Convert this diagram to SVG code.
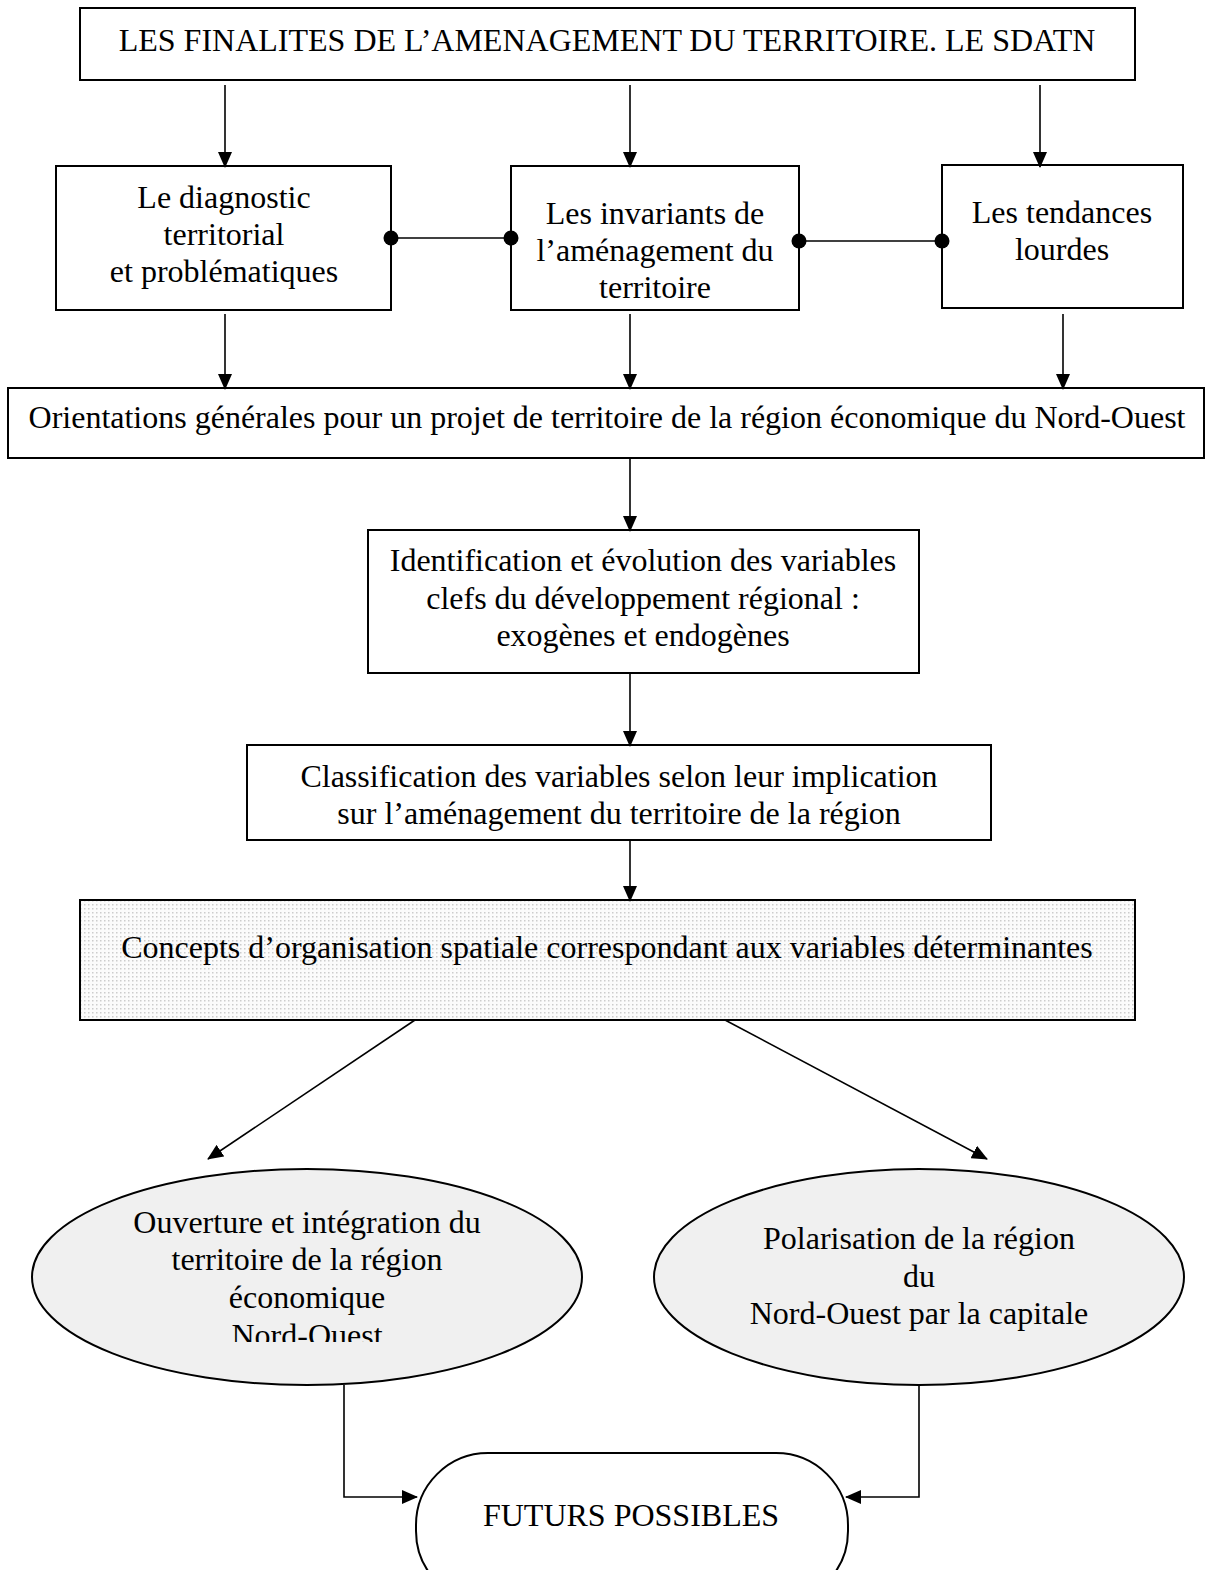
<svg xmlns="http://www.w3.org/2000/svg" width="1208" height="1570" viewBox="0 0 1208 1570">
<style>
.box{fill:#fff;stroke:#000;stroke-width:2}
.ell{fill:#f0f0f0;stroke:#000;stroke-width:2}
.t{font-family:"Liberation Serif","Times New Roman",serif;font-size:32px;fill:#000;text-anchor:middle}
.c{fill:none;stroke:#000;stroke-width:1.6}
</style>
<defs>
<marker id="arr" viewBox="0 0 16 14" refX="15" refY="7" markerWidth="16" markerHeight="14" markerUnits="userSpaceOnUse" orient="auto">
<path d="M0,0 L16,7 L0,14 z" fill="#000"/>
</marker>
<marker id="dot" viewBox="0 0 16 16" refX="8" refY="8" markerWidth="16" markerHeight="16" markerUnits="userSpaceOnUse">
<circle cx="8" cy="8" r="7.5" fill="#000"/>
</marker>
<pattern id="dots" width="4" height="4" patternUnits="userSpaceOnUse">
<rect width="4" height="4" fill="#fbfbfb"/>
<rect x="0" y="0" width="1.5" height="1.5" fill="#cccccc"/>
</pattern>
<clipPath id="clipE1"><rect x="0" y="0" width="1208" height="1342"/></clipPath>
</defs>

<g id="n-top">
<rect class="box" x="80" y="8" width="1055" height="72"/>
<text class="t" x="607" y="51">LES FINALITES DE L’AMENAGEMENT DU TERRITOIRE. LE SDATN</text>
</g>
<g id="n-diag">
<rect class="box" x="56" y="166" width="335" height="144"/>
<text class="t" x="224" y="208">Le diagnostic</text>
<text class="t" x="224" y="245">territorial</text>
<text class="t" x="224" y="282">et problématiques</text>
</g>
<g id="n-inv">
<rect class="box" x="511" y="166" width="288" height="144"/>
<text class="t" x="655" y="224">Les invariants de</text>
<text class="t" x="655" y="261">l’aménagement du</text>
<text class="t" x="655" y="298">territoire</text>
</g>
<g id="n-tend">
<rect class="box" x="942" y="165" width="241" height="143"/>
<text class="t" x="1062" y="223">Les tendances</text>
<text class="t" x="1062" y="260">lourdes</text>
</g>
<g id="n-orient">
<rect class="box" x="8" y="388" width="1196" height="70"/>
<text class="t" x="607" y="428">Orientations générales pour un projet de territoire de la région économique du Nord-Ouest</text>
</g>
<g id="n-ident">
<rect class="box" x="368" y="530" width="551" height="143"/>
<text class="t" x="643" y="571">Identification et évolution des variables</text>
<text class="t" x="643" y="609">clefs du développement régional :</text>
<text class="t" x="643" y="646">exogènes et endogènes</text>
</g>
<g id="n-class">
<rect class="box" x="247" y="745" width="744" height="95"/>
<text class="t" x="619" y="787">Classification des variables selon leur implication</text>
<text class="t" x="619" y="824">sur l’aménagement du territoire de la région</text>
</g>
<g id="n-concepts">
<rect x="80" y="900" width="1055" height="120" fill="url(#dots)" stroke="#000" stroke-width="2"/>
<text class="t" x="607" y="958">Concepts d’organisation spatiale correspondant aux variables déterminantes</text>
</g>
<g id="n-ouverture">
<ellipse class="ell" cx="307" cy="1277" rx="275" ry="108"/>
<g clip-path="url(#clipE1)">
<text class="t" x="307" y="1233">Ouverture et intégration du</text>
<text class="t" x="307" y="1270">territoire de la région</text>
<text class="t" x="307" y="1308">économique</text>
<text class="t" x="307" y="1346">Nord-Ouest</text>
</g>
</g>
<g id="n-polar">
<ellipse class="ell" cx="919" cy="1277" rx="265" ry="108"/>
<text class="t" x="919" y="1249">Polarisation de la région</text>
<text class="t" x="919" y="1287">du</text>
<text class="t" x="919" y="1324">Nord-Ouest par la capitale</text>
</g>
<g id="n-futurs">
<rect class="box" x="416" y="1453" width="432" height="150" rx="72" ry="72"/>
<text class="t" x="631" y="1526">FUTURS POSSIBLES</text>
</g>

<g id="connectors">
<line class="c" x1="225" y1="85" x2="225" y2="167" marker-end="url(#arr)"/>
<line class="c" x1="630" y1="85" x2="630" y2="167" marker-end="url(#arr)"/>
<line class="c" x1="1040" y1="85" x2="1040" y2="167" marker-end="url(#arr)"/>
<line class="c" x1="391" y1="238" x2="511" y2="238" marker-start="url(#dot)" marker-end="url(#dot)"/>
<line class="c" x1="799" y1="241" x2="942" y2="241" marker-start="url(#dot)" marker-end="url(#dot)"/>
<line class="c" x1="225" y1="314" x2="225" y2="389" marker-end="url(#arr)"/>
<line class="c" x1="630" y1="314" x2="630" y2="389" marker-end="url(#arr)"/>
<line class="c" x1="1063" y1="314" x2="1063" y2="389" marker-end="url(#arr)"/>
<line class="c" x1="630" y1="459" x2="630" y2="531" marker-end="url(#arr)"/>
<line class="c" x1="630" y1="674" x2="630" y2="746" marker-end="url(#arr)"/>
<line class="c" x1="630" y1="841" x2="630" y2="901" marker-end="url(#arr)"/>
<line class="c" x1="415" y1="1020" x2="208" y2="1159" marker-end="url(#arr)"/>
<line class="c" x1="725" y1="1020" x2="987" y2="1159" marker-end="url(#arr)"/>
<polyline class="c" points="344,1385 344,1497 417,1497" marker-end="url(#arr)"/>
<polyline class="c" points="919,1385 919,1497 846,1497" marker-end="url(#arr)"/>
</g>
</svg>
